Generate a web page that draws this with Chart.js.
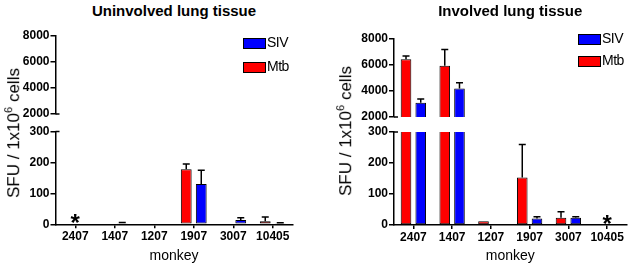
<!DOCTYPE html>
<html>
<head>
<meta charset="utf-8">
<script src="https://cdn.jsdelivr.net/npm/chart.js@4.4.0/dist/chart.umd.min.js"></script>
<style>
    body { margin: 0; background: #fff; font-family: "Liberation Sans", Arial, sans-serif; }
    #wrap { position: relative; width: 630px; height: 267px; overflow: hidden; }
    canvas { position: absolute; }
    .title { position: absolute; font-weight: bold; font-size: 15px; white-space: nowrap; transform: translateX(-50%); }
    .ytitle { position: absolute; font-size: 17px; white-space: nowrap; transform: translate(-50%, -50%) rotate(-90deg); }
    .ytitle sup { font-size: 11px; }
    .leg { position: absolute; font-size: 14px; white-space: nowrap; letter-spacing: -0.5px; }
    .leg span { display: inline-block; width: 21px; height: 9px; border: 1px solid #000; vertical-align: middle; margin-right: 1px; }
</style>
</head>
<body>
<div id="wrap"></div>
<script>
// Dữ liệu
const monkeys = ['2407', '1407', '1207', '1907', '3007', '10405'];
const seriesNames = ['Mtb', 'SIV'];
const seriesColors = ['#FF0000', '#0000FF'];

// Uninvolved lung tissue (trung bình và đầu trên của thanh lỗi)
const uninvolvedMtb = [0, 0, 0, 178, 0, 10];
const uninvolvedMtbErr = [0, 0, 0, 195, 0, 24];
const uninvolvedSiv = [0, 3, 0, 130, 14, 3];
const uninvolvedSivErr = [0, 6, 0, 175, 21, 5];
const uninvolvedMarks = ['*', '', '', '', '', ''];

// Involved lung tissue
const involvedMtb = [6440, 5950, 12, 153, 23, 0];
const involvedMtbErr = [6690, 7200, 12, 260, 43, 0];
const involvedSiv = [3100, 4200, 0, 21, 23, 0];
const involvedSivErr = [3385, 4640, 0, 27, 27, 0];
const involvedMarks = ['', '', '', '', '', '*'];

// Nhãn trục y của hai đoạn (trục bị ngắt)
const upperTicks = [2000, 4000, 6000, 8000];
const lowerTicks = [0, 100, 200, 300];

const TOP_CANVAS = {top: 20, height: 110};
const BOT_CANVAS = {top: 115, height: 152};

// Vẽ thanh lỗi (chỉ phía trên)
const errorBarPlugin = {
    id: 'errorBars',
    afterDatasetsDraw(chart) {
        const ctx = chart.ctx;
        const area = chart.chartArea;
        const yScale = chart.scales.y;
        ctx.save();
        ctx.beginPath();
        ctx.rect(area.left, area.top - 1, area.right - area.left, area.bottom - area.top + 1);
        ctx.clip();
        ctx.strokeStyle = '#000';
        ctx.lineWidth = 1.5;
        chart.data.datasets.forEach((ds, di) => {
            const meta = chart.getDatasetMeta(di);
            meta.data.forEach((bar, i) => {
                const v = ds.data[i];
                const hi = ds.errorTop[i];
                if (!(hi > v)) return;
                const y0 = yScale.getPixelForValue(v);
                const y1 = yScale.getPixelForValue(hi);
                ctx.beginPath();
                ctx.moveTo(bar.x, y0);
                ctx.lineTo(bar.x, y1);
                ctx.moveTo(bar.x - 3.5, y1);
                ctx.lineTo(bar.x + 3.5, y1);
                ctx.stroke();
            });
        });
        ctx.restore();
    }
};

// Dấu * cho mẫu không có dữ liệu, và vạch ngắt trục
const marksPlugin = {
    id: 'marks',
    afterDraw(chart, args, opts) {
        const ctx = chart.ctx;
        const area = chart.chartArea;
        ctx.save();
        ctx.strokeStyle = '#000';
        ctx.lineWidth = 1.5;
        ctx.beginPath();
        const yb = opts.upper ? area.bottom : area.top;
        ctx.moveTo(area.left, yb);
        ctx.lineTo(area.left + 4, yb);
        ctx.stroke();
        if (opts.marks) {
            ctx.fillStyle = '#000';
            ctx.font = 'bold 24px "Liberation Sans", Arial, sans-serif';
            ctx.textAlign = 'center';
            ctx.textBaseline = 'alphabetic';
            const y0 = chart.scales.y.getPixelForValue(0);
            opts.marks.forEach((m, i) => {
                if (!m) return;
                ctx.fillText(m, chart.scales.x.getPixelForValue(i), y0 + 7);
            });
        }
        ctx.restore();
    }
};

function makeDatasets(mtb, mtbErr, siv, sivErr) {
    const vals = [mtb, siv];
    const errs = [mtbErr, sivErr];
    return seriesNames.map((name, k) => ({
        label: name,
        data: vals[k],
        errorTop: errs[k],
        backgroundColor: seriesColors[k],
        borderColor: '#000',
        borderWidth: 1,
        borderSkipped: false,
        clip: 0,
        categoryPercentage: 0.76,
        barPercentage: 0.72
    }));
}

function axisY(ticks, width) {
    return {
        min: ticks[0],
        max: ticks[ticks.length - 1],
        afterBuildTicks: s => { s.ticks = ticks.map(v => ({value: v})); },
        afterFit: s => { s.width = width; },
        border: {color: '#000', width: 1.5},
        grid: {drawOnChartArea: false, tickLength: 5, color: '#000', lineWidth: 1.5},
        ticks: {
            color: '#000', padding: 1,
            callback: v => String(v),
            font: {family: '"Liberation Sans", Arial, sans-serif', size: 12, weight: 'bold'}
        }
    };
}

function addCanvas(wrap, left, box) {
    const c = document.createElement('canvas');
    c.width = 315;
    c.height = box.height;
    c.style.left = left + 'px';
    c.style.top = box.top + 'px';
    wrap.appendChild(c);
    return c.getContext('2d');
}

function makePanel(wrap, p) {
    // Đoạn trên (2000-8000)
    const ctxTop = addCanvas(wrap, p.x, TOP_CANVAS);
    new Chart(ctxTop, {
        type: 'bar',
        data: {labels: monkeys, datasets: makeDatasets(p.mtb, p.mtbErr, p.siv, p.sivErr)},
        options: {
            responsive: false,
            animation: false,
            devicePixelRatio: 1,
            layout: {padding: {left: 0, right: 315 - p.right, top: p.topY - TOP_CANVAS.top, bottom: TOP_CANVAS.top + TOP_CANVAS.height - p.breakTopY}},
            plugins: {legend: {display: false}, tooltip: {enabled: false}, marks: {upper: true}},
            scales: {
                x: {display: false, offset: true},
                y: axisY(upperTicks, p.left)
            }
        },
        plugins: [errorBarPlugin, marksPlugin]
    });

    // Đoạn dưới (0-300)
    const ctxBot = addCanvas(wrap, p.x, BOT_CANVAS);
    new Chart(ctxBot, {
        type: 'bar',
        data: {labels: monkeys, datasets: makeDatasets(p.mtb, p.mtbErr, p.siv, p.sivErr)},
        options: {
            responsive: false,
            animation: false,
            devicePixelRatio: 1,
            layout: {padding: {left: 0, right: 315 - p.right, top: p.breakBotY - BOT_CANVAS.top, bottom: 0}},
            plugins: {legend: {display: false}, tooltip: {enabled: false}, marks: {upper: false, marks: p.marks}},
            scales: {
                x: {
                    offset: true,
                    afterFit: s => { s.height = BOT_CANVAS.top + BOT_CANVAS.height - p.zeroY; },
                    border: {color: '#000', width: 1.5},
                    grid: {drawOnChartArea: false, offset: false, tickLength: 4, color: '#000', lineWidth: 1.5},
                    ticks: {color: '#000', padding: 1, maxRotation: 0, autoSkip: false, font: {family: '"Liberation Sans", Arial, sans-serif', size: 12, weight: 'bold'}},
                    title: {display: true, text: 'monkey', color: '#000', padding: {top: 0, bottom: 2}, font: {family: '"Liberation Sans", Arial, sans-serif', size: 14}}
                },
                y: axisY(lowerTicks, p.left)
            }
        },
        plugins: [errorBarPlugin, marksPlugin]
    });

    // Tiêu đề, nhãn trục y và chú thích
    const t = document.createElement('div');
    t.className = 'title';
    t.textContent = p.title;
    t.style.left = ((p.x + p.left + p.x + p.right) / 2) + 'px';
    t.style.top = '2px';
    wrap.appendChild(t);

    const yt = document.createElement('div');
    yt.className = 'ytitle';
    yt.innerHTML = 'SFU / 1x10<sup>6</sup> cells';
    yt.style.left = p.yTitleX + 'px';
    yt.style.top = p.yTitleY + 'px';
    wrap.appendChild(yt);

    // chú thích: SIV trước, Mtb sau
    [1, 0].forEach((k, row) => {
        const lg = document.createElement('div');
        lg.className = 'leg';
        lg.innerHTML = `<span style="background:${seriesColors[k]}"></span>${seriesNames[k]}`;
        lg.style.left = p.legendX + 'px';
        lg.style.top = (p.legendY[row] - 9) + 'px';
        wrap.appendChild(lg);
    });
}

document.addEventListener('DOMContentLoaded', function () {
    const wrap = document.getElementById('wrap');
    makePanel(wrap, {
        title: 'Uninvolved lung tissue', x: 0,
        mtb: uninvolvedMtb, mtbErr: uninvolvedMtbErr, siv: uninvolvedSiv, sivErr: uninvolvedSivErr, marks: uninvolvedMarks,
        left: 55.5, right: 292.5, topY: 35.5, breakTopY: 114, breakBotY: 131.5, zeroY: 224.3,
        yTitleX: 13, yTitleY: 133, legendX: 243, legendY: [43, 67]
    });
    makePanel(wrap, {
        title: 'Involved lung tissue', x: 315,
        mtb: involvedMtb, mtbErr: involvedMtbErr, siv: involvedSiv, sivErr: involvedSivErr, marks: involvedMarks,
        left: 79, right: 311.5, topY: 39, breakTopY: 117, breakBotY: 132, zeroY: 225,
        yTitleX: 345, yTitleY: 131, legendX: 578, legendY: [39, 61]
    });
});
</script>
</body>
</html>
